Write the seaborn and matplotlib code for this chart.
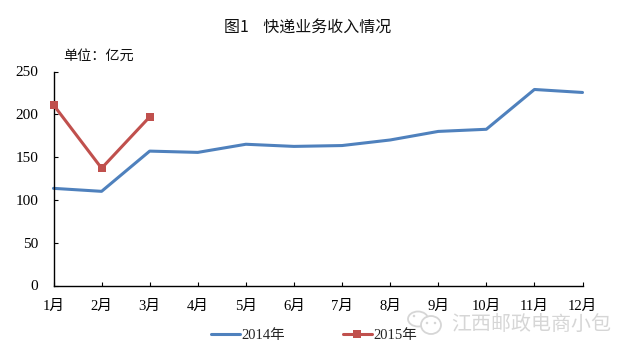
import matplotlib
matplotlib.use("Agg")
import matplotlib.pyplot as plt
from matplotlib.patches import Ellipse
import pandas as pd
import seaborn as sns

months = ["1月", "2月", "3月", "4月", "5月", "6月", "7月", "8月", "9月", "10月", "11月", "12月"]
values_2014 = [113.5, 110, 157, 155.5, 165, 162.5, 163.5, 170, 180, 182.5, 229, 225.5]
values_2015 = [211, 137, 197]
yticks = [0, 50, 100, 150, 200, 250]

sns.set_theme(style="white")
FONTS = ["Liberation Serif", "Noto Sans CJK SC"]
CJK = ["Noto Sans CJK SC", "Liberation Serif"]
plt.rcParams["font.family"] = FONTS

W, H = 634, 354
fig = plt.figure(figsize=(W / 100, H / 100), dpi=100)
ax = fig.add_axes([53.5 / W, 1 - 285.5 / H, (582.5 - 53.5) / W, (285.5 - 71.5) / H])

df = pd.DataFrame({
    "idx": list(range(12)) + list(range(3)),
    "value": values_2014 + values_2015,
    "series": ["2014年"] * 12 + ["2015年"] * 3,
})
sub14 = df[df.series == "2014年"]
sub15 = df[df.series == "2015年"]
sns.lineplot(data=sub14, x="idx", y="value", ax=ax, color="#4F81BD", lw=2.2,
             label="2014年", clip_on=False)
sns.lineplot(data=sub15, x="idx", y="value", ax=ax, color="#C0504D", lw=2.2,
             marker="s", markersize=5.6, markeredgewidth=0, label="2015年",
             clip_on=False, zorder=4)

ax.set_xlim(0, 11)
ax.set_ylim(0, 250)
ax.set_xticks(range(12))
ax.set_xticklabels(months, fontsize=10.5, family=FONTS)
ax.set_yticks(yticks)
ax.set_yticklabels([str(v) for v in yticks], fontsize=11, family=FONTS)
ax.set_xlabel("")
ax.set_ylabel("")
for s in ["top", "right"]:
    ax.spines[s].set_visible(False)
for s in ["left", "bottom"]:
    ax.spines[s].set_color("black")
    ax.spines[s].set_linewidth(1.0)
ax.tick_params(axis="x", direction="in", length=3, width=0.8, color="black",
               bottom=True, pad=10.5, labelcolor="black")
ax.tick_params(axis="y", direction="in", length=3, width=0.8, color="black",
               left=True, pad=11, labelcolor="black")

fig.text(308 / W, 1 - 27 / H, "图1    快递业务收入情况", ha="center", va="center",
         fontsize=11.5, family=CJK, color="#111111")
fig.text(63 / W, 1 - 56 / H, "单位：亿元", ha="left", va="center",
         fontsize=10.2, family=CJK, color="#111111")
fig.text(531 / W, 1 - 324 / H, "江西邮政电商小包", ha="center", va="center",
         fontsize=14.4, family=CJK, color="#d6d6d6")

# watermark icon
wm = "#d6d6d6"
fig.add_artist(Ellipse((418 / W, 1 - 319 / H), 20 / W, 15 / H, fill=False, ec=wm, lw=1.3, transform=fig.transFigure))
fig.add_artist(Ellipse((431 / W, 1 - 325 / H), 20 / W, 18 / H, fc="white", ec=wm, lw=1.3, transform=fig.transFigure))
for px, py in [(427, 323), (435, 323), (414, 316)]:
    fig.add_artist(Ellipse((px / W, 1 - py / H), 2.5 / W, 2.5 / H, fc=wm, ec="none", transform=fig.transFigure))

leg = ax.legend(loc="center", bbox_to_anchor=((314 - 53.5) / (582.5 - 53.5), (285.5 - 335) / (285.5 - 71.5)),
                ncol=2, frameon=False, fontsize=10.5, columnspacing=4.0,
                handlelength=1.95, handletextpad=0.1, borderpad=0)

fig.savefig("out.png", dpi=100, facecolor="white")
